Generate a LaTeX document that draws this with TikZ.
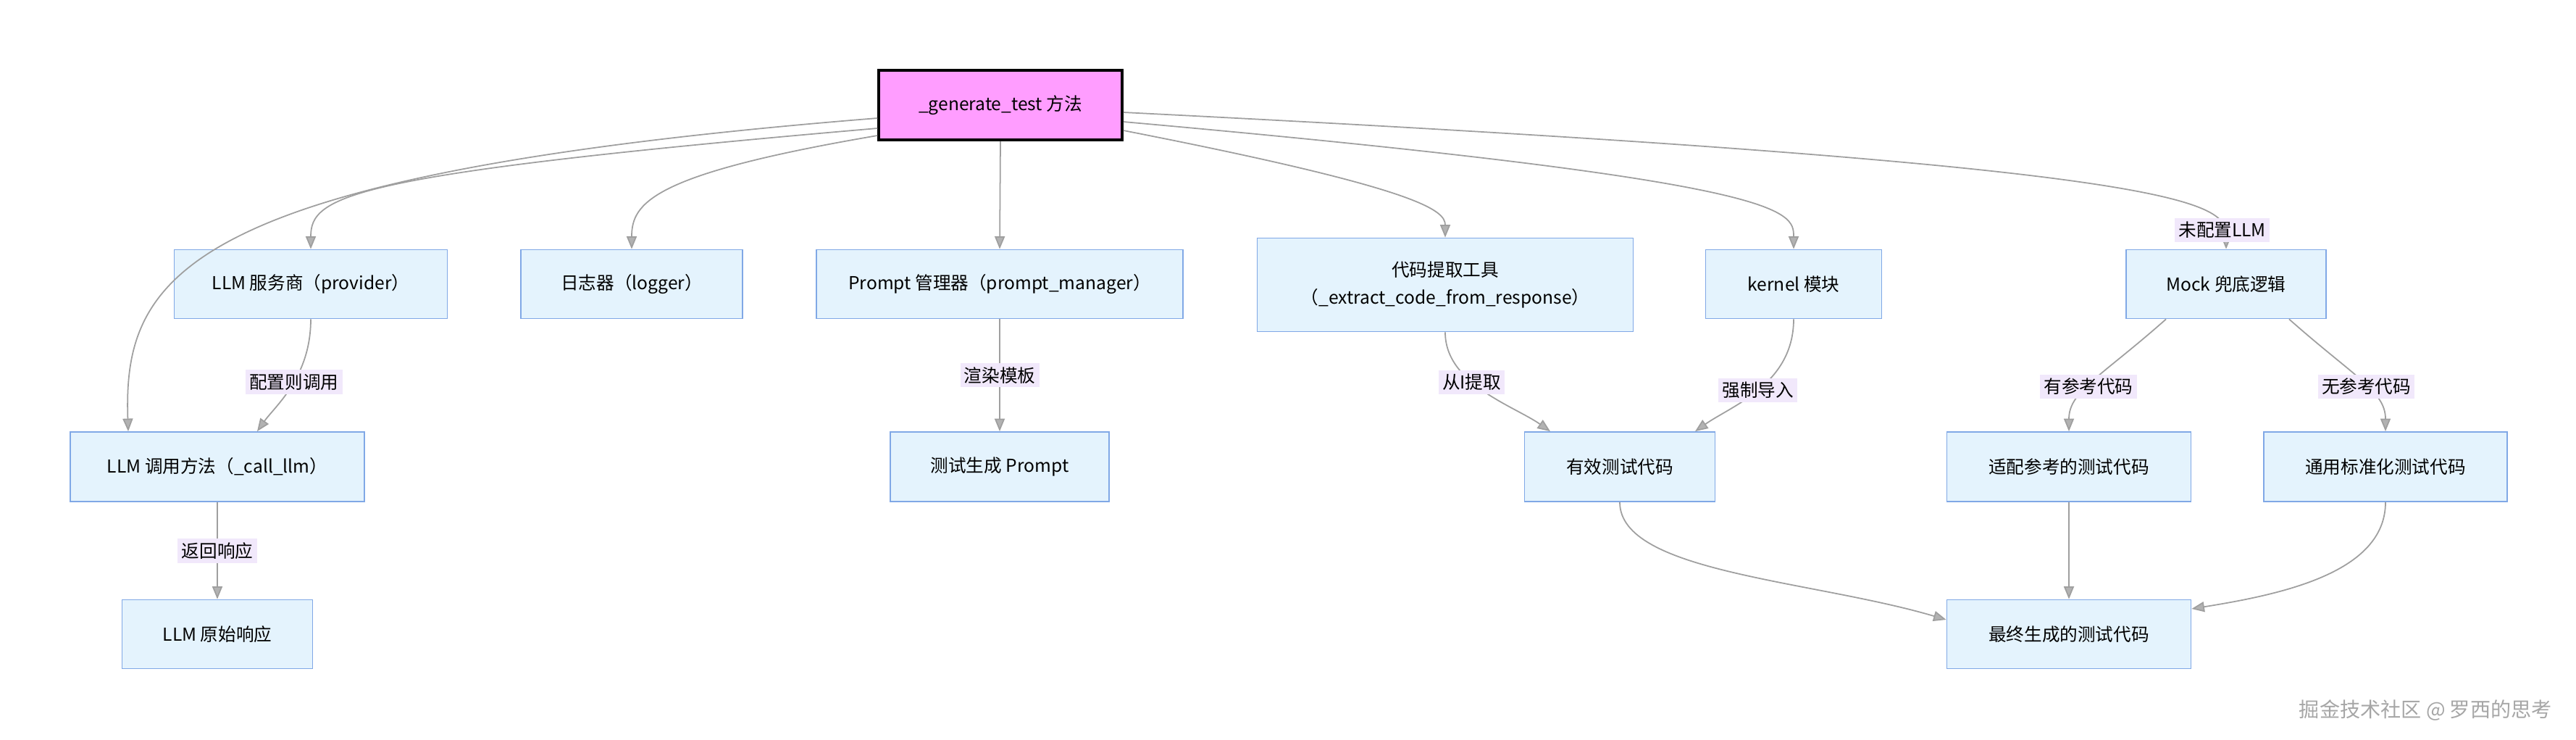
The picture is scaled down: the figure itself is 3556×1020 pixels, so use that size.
\documentclass[tikz,border=0pt]{standalone}
\usepackage{fontspec}
\setmainfont{Noto Sans CJK SC}
\usetikzlibrary{arrows.meta}
\definecolor{boxfill}{HTML}{E4F3FD}
\definecolor{boxline}{HTML}{80A8E6}
\definecolor{topfill}{HTML}{FF9DFF}
\definecolor{lblfill}{HTML}{F1E8FB}
\tikzset{
  box/.style={draw=boxline, fill=boxfill, line width=0.5pt, align=center, inner sep=0pt, font=\fontsize{7}{11}\selectfont},
  lbl/.style={fill=lblfill, inner sep=1.5pt, font=\fontsize{7}{9}\selectfont},
  edge/.style={draw=gray!75, line width=0.5pt, -{Triangle[length=5pt,width=4pt,fill=gray!60]}}
}
\begin{document}
\begin{tikzpicture}[x=0.01cm, y=-0.01cm]
  \useasboundingbox (0,0) rectangle (3556,1020);
  \node[box, draw=black, line width=1pt, fill=topfill, minimum width=336*0.01cm, minimum height=96*0.01cm] (top) at (1381,145) {\_generate\_test 方法};
  \node[box, minimum width=377*0.01cm, minimum height=95*0.01cm] (provider) at (429,392) {LLM 服务商（provider）};
  \node[box, minimum width=306*0.01cm, minimum height=95*0.01cm] (logger) at (872,392) {日志器（logger）};
  \node[box, minimum width=506*0.01cm, minimum height=95*0.01cm] (pmgr) at (1380,392) {Prompt 管理器（prompt\_manager）};
  \node[box, minimum width=519*0.01cm, minimum height=129*0.01cm] (extract) at (1995,393) {代码提取工具\\（\_extract\_code\_from\_response）};
  \node[box, minimum width=243*0.01cm, minimum height=95*0.01cm] (kernel) at (2476,392) {kernel 模块};
  \node[box, minimum width=276*0.01cm, minimum height=95*0.01cm] (mock) at (3073,392) {Mock 兜底逻辑};
  \node[box, minimum width=406*0.01cm, minimum height=96*0.01cm] (callllm) at (300,644) {LLM 调用方法（\_call\_llm）};
  \node[box, minimum width=302*0.01cm, minimum height=96*0.01cm] (tprompt) at (1380,644) {测试生成 Prompt};
  \node[box, minimum width=263*0.01cm, minimum height=96*0.01cm] (valid) at (2236,644) {有效测试代码};
  \node[box, minimum width=337*0.01cm, minimum height=96*0.01cm] (refcode) at (2856,644) {适配参考的测试代码};
  \node[box, minimum width=336*0.01cm, minimum height=96*0.01cm] (stdcode) at (3293,644) {通用标准化测试代码};
  \node[box, minimum width=263*0.01cm, minimum height=95*0.01cm] (raw) at (300,875) {LLM 原始响应};
  \node[box, minimum width=337*0.01cm, minimum height=95*0.01cm] (final) at (2856,875) {最终生成的测试代码};
  % edges from the method
  \draw[edge] (top.west |- 0,163) .. controls (250,240) and (170,380) .. (callllm.north -| 177,0);
  \draw[edge] (top.west |- 0,177) .. controls (480,240) and (429,270) .. (provider.north);
  \draw[edge] (top.west |- 0,187) .. controls (900,240) and (872,280) .. (logger.north);
  \draw[edge] (top.south) -- (pmgr.north);
  \draw[edge] (top.east |- 0,180) .. controls (1960,260) and (1995,290) .. (extract.north);
  \draw[edge] (top.east |- 0,168) .. controls (2470,250) and (2476,290) .. (kernel.north);
  \draw[edge] (top.east |- 0,155) .. controls (3050,230) and (3073,280) .. node[lbl, pos=0.86] {未配置LLM} (mock.north);
  % second level
  \draw[edge] (provider.south) .. controls (429,520) and (380,560) .. node[lbl, pos=0.45] {配置则调用} (callllm.north -| 355,0);
  \draw[edge] (callllm.south) -- node[lbl] {返回响应} (raw.north);
  \draw[edge] (pmgr.south) -- node[lbl] {渲染模板} (tprompt.north);
  \draw[edge] (extract.south) .. controls (1995,530) and (2090,560) .. node[lbl, pos=0.4] {从I提取} (valid.north -| 2140,0);
  \draw[edge] (kernel.south) .. controls (2476,530) and (2390,560) .. node[lbl, pos=0.5] {强制导入} (valid.north -| 2340,0);
  \draw[edge] (mock.south -| 2990,0) .. controls (2900,520) and (2856,540) .. node[lbl, pos=0.55] {有参考代码} (refcode.north);
  \draw[edge] (mock.south -| 3160,0) .. controls (3250,520) and (3293,540) .. node[lbl, pos=0.55] {无参考代码} (stdcode.north);
  \draw[edge] (valid.south) .. controls (2236,790) and (2500,800) .. (final.west |- 0,855);
  \draw[edge] (refcode.south) -- (final.north);
  \draw[edge] (stdcode.south) .. controls (3293,790) and (3150,820) .. (final.east |- 0,840);
  \node[anchor=east, text=gray!70, font=\fontsize{8}{10}\selectfont] (mark) at (3535,980) {掘金技术社区 @ 罗西的思考};
\end{tikzpicture}
\end{document}
